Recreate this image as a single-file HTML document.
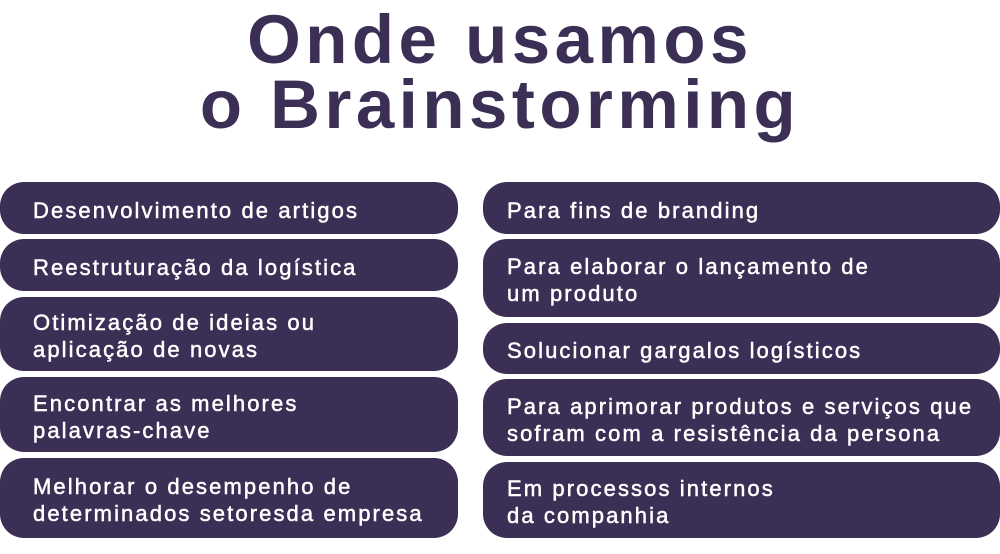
<!DOCTYPE html>
<html><head><meta charset="utf-8"><style>
html,body{margin:0;padding:0;background:#fff;}
body{width:1000px;height:554px;position:relative;overflow:hidden;font-family:"Liberation Sans",sans-serif;}
.t{position:absolute;left:0;width:1000px;text-align:center;color:#3b2f55;font-weight:bold;font-size:69px;letter-spacing:4.5px;line-height:68px;}
.b{position:absolute;background:#3b2f55;border-radius:24px;color:#fff;font-size:22px;letter-spacing:2.1px;line-height:27px;box-sizing:border-box;display:flex;align-items:center;-webkit-text-stroke:0.5px #fff;padding-top:4px;}
.l{left:0;width:458px;padding-left:33px;}
.r{left:483px;width:517px;padding-left:24px;}
</style></head><body>
<div class="t" style="top:6px">Onde usamos</div>
<div class="t" style="top:71px">o Brainstorming</div>

<div class="b l" style="top:182px;height:52px">Desenvolvimento de artigos</div>
<div class="b l" style="top:239px;height:52px">Reestruturação da logística</div>
<div class="b l" style="top:297px;height:74px">Otimização de ideias ou<br>aplicação de novas</div>
<div class="b l" style="top:377px;height:75px">Encontrar as melhores<br>palavras-chave</div>
<div class="b l" style="top:458px;height:80px">Melhorar o desempenho de<br>determinados setoresda empresa</div>

<div class="b r" style="top:182px;height:52px">Para fins de branding</div>
<div class="b r" style="top:239px;height:78px">Para elaborar o lançamento de<br>um produto</div>
<div class="b r" style="top:323px;height:51px">Solucionar gargalos logísticos</div>
<div class="b r" style="top:379px;height:77px">Para aprimorar produtos e serviços que<br>sofram com a resistência da persona</div>
<div class="b r" style="top:462px;height:76px">Em processos internos<br>da companhia</div>
</body></html>
